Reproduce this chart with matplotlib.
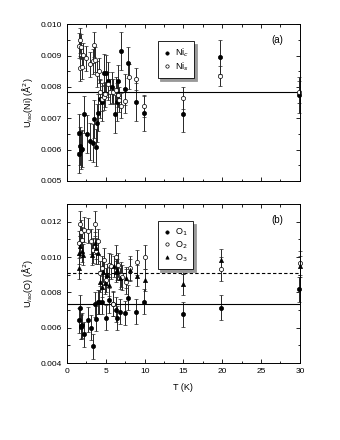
import numpy as np
import matplotlib
matplotlib.use('Agg')
import matplotlib.pyplot as plt
from matplotlib.ticker import MultipleLocator, FormatStrFormatter

plt.rcParams['font.family'] = ['Liberation Sans', 'DejaVu Sans']
plt.rcParams['font.size'] = 6

# Ni_c (filled)
T_nic = [1.55, 1.55, 1.7, 1.8, 1.95, 2.15, 2.6, 3.0, 3.35, 3.5, 3.7, 3.87, 4.04, 4.2, 4.5,
         4.77, 5.07, 5.3, 5.84, 6.19, 6.45, 6.57, 6.9, 7.48, 7.86, 8.9, 9.93, 14.95, 19.7, 29.95]
U_nic = [0.00653, 0.00586, 0.00612, 0.00598, 0.00603, 0.00712, 0.00649, 0.00626, 0.00621, 0.00698,
         0.00607, 0.00684, 0.00718, 0.00762, 0.00751, 0.00845, 0.00843, 0.00819, 0.00798, 0.00713,
         0.00751, 0.00820, 0.00915, 0.00792, 0.00877, 0.00751, 0.00715, 0.00712, 0.00895, 0.00775]
E_nic = [0.0006, 0.0006, 0.0006, 0.0006, 0.0006, 0.0006, 0.0006, 0.0006, 0.0006, 0.0006,
         0.0006, 0.0006, 0.0006, 0.0006, 0.0006, 0.0006, 0.0006, 0.0006, 0.0005, 0.0006,
         0.0006, 0.0005, 0.0006, 0.0005, 0.0005, 0.0006, 0.00057, 0.00057, 0.00055, 0.00058]

# Ni_s (open)
T_nis = [1.55, 1.63, 1.63, 1.76, 1.93, 2.06, 2.49, 3.0, 3.35, 3.48, 3.65, 3.87, 4.13, 4.21, 4.47,
         4.73, 4.94, 5.3, 5.5, 5.93, 6.32, 6.53, 6.7, 6.92, 7.48, 7.95, 8.9, 9.93, 14.95, 19.7, 29.95]
U_nis = [0.00931, 0.00949, 0.00859, 0.00928, 0.00864, 0.00901, 0.00891, 0.00872, 0.00882, 0.00935,
         0.00886, 0.00841, 0.00851, 0.00785, 0.00762, 0.00767, 0.00777, 0.00808, 0.00785, 0.00785,
         0.00790, 0.00775, 0.00759, 0.00740, 0.00756, 0.00833, 0.00824, 0.00738, 0.00764, 0.00834, 0.00785]
E_nis = [0.0004] * 26 + [0.00035, 0.00035, 0.00036, 0.00032, 0.00035]

# O1 (filled circles)
T_o1 = [1.55, 1.65, 1.75, 1.85, 1.95, 2.2, 2.7, 3.1, 3.4, 3.6, 3.7, 3.95, 4.15, 4.45, 5.0,
        5.4, 5.9, 6.3, 6.5, 6.8, 7.5, 7.9, 8.9, 9.95, 14.9, 19.8, 29.9]
U_o1 = [0.00642, 0.00714, 0.00604, 0.00608, 0.00613, 0.00562, 0.00646, 0.00600, 0.00495, 0.00733,
        0.00651, 0.00745, 0.00745, 0.00747, 0.00657, 0.00756, 0.00737, 0.00703, 0.00655, 0.00690,
        0.00684, 0.00771, 0.00690, 0.00747, 0.00676, 0.00714, 0.00817]
E_o1 = [0.0007] * 27

# O2 (open circles)
T_o2 = [1.5, 1.63, 1.76, 1.98, 2.19, 2.71, 3.05, 3.35, 3.57, 3.78, 4.0, 4.21, 4.47, 4.77, 5.07,
        5.37, 5.63, 5.9, 6.36, 6.62, 6.92, 7.13, 7.65, 8.08, 9.07, 10.1, 15.0, 19.9, 30.0]
U_o2 = [0.01080, 0.01189, 0.01141, 0.01099, 0.01156, 0.01150, 0.01090, 0.01038, 0.01189, 0.01032,
        0.01090, 0.00909, 0.00937, 0.00981, 0.00870, 0.00956, 0.00947, 0.00734, 0.01000, 0.00956,
        0.00900, 0.00886, 0.00861, 0.00937, 0.00971, 0.01000, 0.00975, 0.00933, 0.00966]
E_o2 = [0.0007] * 29

# O3 (triangles)
T_o3 = [1.5, 1.6, 1.72, 1.9, 2.06, 3.2, 3.57, 3.78, 4.0, 4.21, 4.47, 4.64, 4.9, 5.2, 5.37,
        6.0, 6.27, 6.49, 6.79, 7.56, 8.08, 9.07, 10.1, 15.0, 19.9, 30.0]
U_o3 = [0.01023, 0.00937, 0.01061, 0.01032, 0.01013, 0.01013, 0.01080, 0.01051, 0.01023, 0.00861,
        0.00832, 0.00918, 0.00851, 0.00900, 0.00842, 0.00947, 0.00918, 0.00928, 0.00880, 0.00884,
        0.00928, 0.00895, 0.00870, 0.00846, 0.00985, 0.00947]
E_o3 = [0.0006] * 26

ni_mean = 0.00785
o_mean_solid = 0.00735
o_mean_dash = 0.0091

fig = plt.figure(figsize=(3.4, 4.4), dpi=100)
ax1 = fig.add_axes([0.197, 0.589, 0.685, 0.356])
ax2 = fig.add_axes([0.197, 0.175, 0.685, 0.361])

eb = dict(ecolor='0.15', elinewidth=0.7, capsize=1.5, capthick=0.6, ls='none', clip_on=False)

c1 = ax1.errorbar(T_nic, U_nic, yerr=E_nic, fmt='o', ms=3, mfc='k', mec='k', mew=0.5, **eb)
c2 = ax1.errorbar(T_nis, U_nis, yerr=E_nis, fmt='o', ms=3, mfc='w', mec='k', mew=0.5, **eb)
ax1.axhline(ni_mean, color='k', lw=0.8)

c3 = ax2.errorbar(T_o1, U_o1, yerr=E_o1, fmt='o', ms=3, mfc='k', mec='k', mew=0.5, **eb)
c4 = ax2.errorbar(T_o2, U_o2, yerr=E_o2, fmt='o', ms=3, mfc='w', mec='k', mew=0.5, **eb)
c5 = ax2.errorbar(T_o3, U_o3, yerr=E_o3, fmt='^', ms=3, mfc='k', mec='k', mew=0.5, **eb)
ax2.axhline(o_mean_solid, color='k', lw=0.8)
ax2.axhline(o_mean_dash, color='k', lw=0.8, ls=(0, (3, 2)))

ax1.set_xlim(0, 30)
ax2.set_xlim(0, 30)
ax1.set_ylim(0.005, 0.010)
ax2.set_ylim(0.004, 0.013)

legs = [(ax1, [c1[0], c2[0]], ['Ni$_c$', 'Ni$_s$']),
        (ax2, [c3[0], c4[0], c5[0]], ['O$_1$', 'O$_2$', 'O$_3$'])]
for ax, hs, labs in legs:
    ax.xaxis.set_major_locator(MultipleLocator(5))
    ax.xaxis.set_minor_locator(MultipleLocator(2.5))
    ax.yaxis.set_major_formatter(FormatStrFormatter('%.3f'))
    ax.tick_params(which='both', direction='in', top=True, right=True, labelsize=6, width=0.6)
    ax.tick_params(which='major', length=3)
    ax.tick_params(which='minor', length=1.8)
    for s in ax.spines.values():
        s.set_linewidth(0.7)
    leg = ax.legend(hs, labs, loc='upper left', bbox_to_anchor=(0.37, 0.92), fontsize=6.5, frameon=True,
                    fancybox=False, shadow={'color': '0.6', 'alpha': 1}, edgecolor='k',
                    handlelength=0.8, handletextpad=0.5, borderpad=0.6, labelspacing=0.15,
                    numpoints=1, markerscale=0.8)
    leg.get_frame().set_linewidth(0.6)

ax1.yaxis.set_major_locator(MultipleLocator(0.001))
ax1.yaxis.set_minor_locator(MultipleLocator(0.0005))
ax2.yaxis.set_major_locator(MultipleLocator(0.002))
ax2.yaxis.set_minor_locator(MultipleLocator(0.001))
ax1.tick_params(labelbottom=False)

ax1.set_ylabel('U$_{iso}$(Ni) ($\\mathrm{\\AA}^2$)', fontsize=6.5, labelpad=4)
ax2.set_ylabel('U$_{iso}$(O) ($\\mathrm{\\AA}^2$)', fontsize=6.5, labelpad=4)
ax2.set_xlabel('T (K)', fontsize=6.5, labelpad=6)

ax1.text(0.93, 0.93, '(a)', transform=ax1.transAxes, ha='right', va='top', fontsize=7)
ax2.text(0.93, 0.93, '(b)', transform=ax2.transAxes, ha='right', va='top', fontsize=7)

fig.savefig('out.png', dpi=100)
